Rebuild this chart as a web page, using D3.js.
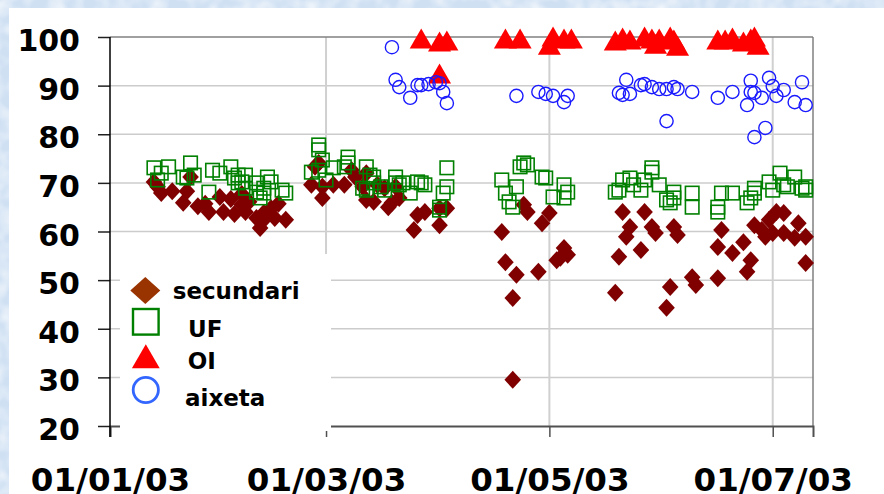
<!DOCTYPE html>
<html><head><meta charset="utf-8">
<script src="https://cdn.jsdelivr.net/npm/d3@7"></script>
<style>
html,body{margin:0;padding:0;background:#fff;}
svg{display:block;}
text{font-family:"DejaVu Sans",Verdana,sans-serif;font-weight:bold;fill:#000;}
</style></head>
<body><svg id="chart" width="884" height="494"></svg>
<script>
// ---- data ----
const yTicks = [20,30,40,50,60,70,80,90,100];
const xTickDates = ["2003-01-01","2003-03-01","2003-05-01","2003-07-01"];
const xTickLabels = ["01/01/03","01/03/03","01/05/03","01/07/03"];
const seriesNames = ["secundari","UF","OI","aixeta"];

const secundari = [
["2003-01-13",70.2],["2003-01-14",69.2],["2003-01-15",67.9],["2003-01-18",68.3],["2003-01-23",71.2],["2003-01-22",68.3],["2003-01-21",65.9],["2003-01-25",65.2],["2003-01-27",65.7],["2003-01-28",64.0],["2003-01-31",67.1],["2003-02-01",64.0],["2003-02-03",66.7],["2003-02-04",63.6],["2003-02-06",65.5],["2003-02-06",67.7],["2003-02-07",64.0],["2003-02-08",66.1],["2003-02-10",62.8],["2003-02-11",60.7],["2003-02-12",62.4],["2003-02-12",63.8],["2003-02-14",64.8],["2003-02-15",62.8],["2003-02-16",65.7],["2003-02-18",62.4],
["2003-02-25",69.6],["2003-02-26",73.3],["2003-02-27",74.1],["2003-02-28",66.9],["2003-02-28",69.2],["2003-03-03",69.6],["2003-03-06",69.6],["2003-03-08",72.6],["2003-03-09",71.2],["2003-03-11",69.2],["2003-03-12",72.0],["2003-03-12",66.5],["2003-03-14",66.1],["2003-03-15",69.6],["2003-03-18",65.0],["2003-03-17",68.9],["2003-03-19",65.9],["2003-03-21",66.9],["2003-03-20",69.2],["2003-03-25",60.3],["2003-03-26",63.4],["2003-03-28",64.0],["2003-04-01",61.3],["2003-04-03",64.8],["2003-04-01",64.8],
["2003-04-18",59.9],["2003-04-19",53.7],["2003-04-22",51.1],["2003-04-21",46.3],["2003-04-21",29.5],["2003-04-24",65.5],["2003-04-25",64.0],["2003-05-01",63.8],["2003-04-29",61.7],["2003-04-28",51.7],["2003-05-03",54.1],["2003-05-05",56.6],["2003-05-06",55.2],["2003-05-04",54.6],
["2003-05-21",64.0],["2003-05-27",64.0],["2003-05-23",60.9],["2003-05-22",58.9],["2003-05-29",60.9],["2003-05-30",59.7],["2003-06-04",60.9],["2003-06-05",59.3],["2003-05-20",54.8],["2003-05-26",56.2],["2003-05-19",47.4],["2003-06-03",48.6],["2003-06-02",44.3],["2003-06-09",50.6],["2003-06-10",49.0],
["2003-06-17",60.3],["2003-06-16",56.8],["2003-06-20",55.6],["2003-06-23",57.8],["2003-06-25",54.1],["2003-06-24",51.7],["2003-06-16",50.4],["2003-06-26",61.3],["2003-06-30",62.4],["2003-07-02",64.0],["2003-07-04",63.8],["2003-07-01",59.7],["2003-07-04",59.7],["2003-07-08",61.7],["2003-07-07",58.7],["2003-07-10",58.9],["2003-07-10",53.5],["2003-06-28",60.3],["2003-06-29",58.9]
];

const UF = [
["2003-01-13",73.1],["2003-01-15",72.0],["2003-01-17",73.3],["2003-01-14",70.6],["2003-01-21",71.2],["2003-01-23",74.1],["2003-01-24",71.6],["2003-01-22",71.0],["2003-01-28",68.1],["2003-01-29",72.6],["2003-01-31",72.0],["2003-02-03",73.3],["2003-02-04",71.0],["2003-02-05",71.6],["2003-02-07",71.6],["2003-02-05",70.0],["2003-02-06",70.2],["2003-02-07",68.9],["2003-02-10",70.0],["2003-02-12",68.9],["2003-02-13",71.2],["2003-02-14",70.2],["2003-02-12",67.9],["2003-02-11",66.9],["2003-02-17",68.5],["2003-02-18",67.9],["2003-02-10",68.1],
["2003-02-27",77.8],["2003-02-27",76.8],["2003-02-28",74.7],["2003-02-25",72.2],["2003-02-27",72.6],["2003-03-01",70.6],["2003-03-03",73.1],["2003-03-07",75.3],["2003-03-06",73.3],["2003-03-07",74.1],["2003-03-12",73.3],["2003-03-13",71.6],["2003-03-14",71.2],["2003-03-11",68.9],["2003-03-12",68.5],["2003-03-14",70.0],["2003-03-16",69.2],["2003-03-17",68.5],["2003-03-20",71.2],["2003-03-20",70.0],["2003-03-21",69.6],["2003-03-22",70.0],["2003-03-24",67.9],["2003-03-26",70.2],["2003-03-27",70.0],["2003-03-28",69.6],["2003-04-03",73.1],["2003-04-03",69.2],["2003-04-02",67.9],["2003-04-01",64.4],["2003-04-01",65.0],
["2003-04-18",70.6],["2003-04-19",67.9],["2003-04-20",66.1],["2003-04-21",65.0],["2003-04-22",69.2],["2003-04-24",74.1],["2003-04-25",73.7],["2003-04-23",73.3],["2003-04-29",71.2],["2003-04-30",71.0],["2003-05-02",67.1],["2003-05-05",69.6],["2003-05-06",68.1],["2003-05-05",66.9],
["2003-05-19",68.1],["2003-05-20",68.5],["2003-05-21",70.6],["2003-05-23",71.0],["2003-05-24",69.6],["2003-05-26",68.5],["2003-05-27",70.6],["2003-05-29",72.2],["2003-05-29",73.1],["2003-05-31",69.6],["2003-06-02",66.5],["2003-06-03",65.9],["2003-06-04",68.1],["2003-06-04",66.9],["2003-06-09",67.9],["2003-06-09",65.0],
["2003-06-16",65.0],["2003-06-16",64.0],["2003-06-17",67.9],["2003-06-20",67.9],["2003-06-24",65.9],["2003-06-25",66.9],["2003-06-26",67.9],["2003-06-26",68.9],["2003-06-30",70.2],["2003-07-01",68.5],["2003-07-03",72.0],["2003-07-04",69.6],["2003-07-05",69.2],["2003-07-07",71.2],["2003-07-09",68.9],["2003-07-10",68.5],["2003-07-10",69.2]
];

const OI = [
["2003-03-27",99.0],["2003-04-01",98.4],["2003-04-03",98.6],["2003-04-01",91.8],
["2003-04-19",99.0],["2003-04-23",99.0],["2003-05-01",97.7],["2003-05-02",99.4],["2003-05-05",99.0],["2003-05-07",99.0],
["2003-05-19",98.6],["2003-05-21",99.2],["2003-05-23",98.8],["2003-05-27",99.4],["2003-05-29",99.0],["2003-05-30",97.9],["2003-05-31",99.0],["2003-06-03",99.4],["2003-06-04",98.8],["2003-06-05",97.5],
["2003-06-16",98.8],["2003-06-18",98.8],["2003-06-20",99.2],["2003-06-23",98.4],["2003-06-25",99.0],["2003-06-26",99.4],["2003-06-27",97.7]
];

const aixeta = [
["2003-03-19",97.9],["2003-03-20",91.2],["2003-03-21",89.7],["2003-03-24",87.5],["2003-03-26",90.1],["2003-03-27",90.1],["2003-03-29",90.3],["2003-03-31",90.7],["2003-04-01",90.5],["2003-04-02",88.7],["2003-04-03",86.4],
["2003-04-22",87.9],["2003-04-28",88.7],["2003-04-30",88.3],["2003-05-02",87.9],["2003-05-05",86.6],["2003-05-06",87.9],
["2003-05-22",91.2],["2003-05-20",88.5],["2003-05-21",88.1],["2003-05-23",88.3],["2003-05-26",90.1],["2003-05-27",90.3],["2003-05-29",89.7],["2003-05-31",89.3],["2003-06-02",89.3],["2003-06-04",89.7],["2003-06-05",89.3],["2003-06-09",88.7],["2003-06-02",82.7],
["2003-06-16",87.5],["2003-06-20",88.7],["2003-06-24",86.0],["2003-06-25",91.0],["2003-06-25",88.7],["2003-06-26",88.5],["2003-06-28",87.5],["2003-06-30",91.6],["2003-07-01",89.9],["2003-07-02",87.9],["2003-07-04",89.1],["2003-07-07",86.6],["2003-07-09",90.7],["2003-07-10",86.0],["2003-06-26",79.4],["2003-06-29",81.3]
];

// ---- layout ----
const parse = d3.utcParse("%Y-%m-%d");
const svg = d3.select("#chart");
const L = 110, R = 813, T = 37, B = 426;

const x = d3.scaleUtc().domain([parse("2003-01-01"), parse("2003-07-12")]).range([L, R]);
const y = d3.scaleLinear().domain([20, 100]).range([B, T]);

// textured light-blue background strips
const defs = svg.append("defs");
const f = defs.append("filter").attr("id","tex").attr("x",0).attr("y",0).attr("width","100%").attr("height","100%");
f.append("feTurbulence").attr("type","fractalNoise").attr("baseFrequency","0.06").attr("numOctaves",2).attr("seed",4).attr("result","n");
f.append("feColorMatrix").attr("in","n").attr("type","matrix")
  .attr("values","0 0 0 0 1  0 0 0 0 1  0 0 0 0 1  1.6 0 0 0 -0.55");
svg.append("rect").attr("x",0).attr("y",0).attr("width",884).attr("height",494).attr("fill","#cfe0f3");
svg.append("rect").attr("x",0).attr("y",0).attr("width",884).attr("height",494).attr("filter","url(#tex)").attr("opacity",0.8);
svg.append("rect").attr("x",9).attr("y",8).attr("width",875).attr("height",486).attr("fill","#ffffff");

// horizontal gridlines
svg.append("g").selectAll("line").data(yTicks.filter(v => v > 20 && v < 100)).join("line")
  .attr("x1", L).attr("x2", R).attr("y1", d => y(d)).attr("y2", d => y(d))
  .attr("stroke", "#cccccc").attr("stroke-width", 1.5);
// vertical gridlines
svg.append("g").selectAll("line").data(xTickDates.slice(1)).join("line")
  .attr("x1", d => x(parse(d))).attr("x2", d => x(parse(d)))
  .attr("y1", T).attr("y2", B)
  .attr("stroke", "#d0d0d0").attr("stroke-width", 2);

// frame: top & right
svg.append("line").attr("x1",L).attr("x2",R).attr("y1",T).attr("y2",T).attr("stroke","#808080").attr("stroke-width",1.5);
svg.append("line").attr("x1",R).attr("x2",R).attr("y1",T).attr("y2",B).attr("stroke","#808080").attr("stroke-width",1.5);

// x axis
const xAxis = d3.axisBottom(x).tickValues(xTickDates.map(parse)).tickSize(11).tickFormat((d,i) => xTickLabels[i]);
const gx = svg.append("g").attr("transform", `translate(0,${B})`).call(xAxis);
gx.select(".domain").attr("stroke", "#505050").attr("stroke-width", 2);
gx.selectAll(".tick line").attr("stroke", "#505050").attr("stroke-width", 1.5);
gx.selectAll(".tick text").attr("font-size", 32.5).attr("font-family", "DejaVu Sans").attr("font-weight","bold")
  .attr("fill","#000").attr("y", 64.5).attr("dy", 0).attr("text-anchor","middle");

// y axis
const yAxis = d3.axisLeft(y).tickValues(yTicks).tickSize(12).tickFormat(d3.format("d"));
const gy = svg.append("g").attr("transform", `translate(${L},0)`).call(yAxis);
gy.select(".domain").remove();
gy.append("line").attr("x1",0).attr("x2",0).attr("y1",T).attr("y2",B+11).attr("stroke","#000").attr("stroke-width",1.5);
gy.selectAll(".tick line").attr("stroke", "#202020").attr("stroke-width", 1.5);
gy.selectAll(".tick text").attr("font-size", 30).attr("font-family", "DejaVu Sans").attr("font-weight","bold")
  .attr("fill","#000").attr("x", -30).attr("dy", 0).attr("y", 13.5).attr("text-anchor","end");

// ---- marks ----
const diamond = "M0,-9L8.3,0L0,9L-8.3,0Z";
svg.append("g").selectAll("path").data(secundari).join("path")
  .attr("d", diamond)
  .attr("transform", d => `translate(${x(parse(d[0]))},${y(d[1])})`)
  .attr("fill", "#800000");

const sq = 13.5;
svg.append("g").selectAll("rect").data(UF).join("rect")
  .attr("x", d => x(parse(d[0])) - sq/2).attr("y", d => y(d[1]) - sq/2)
  .attr("width", sq).attr("height", sq)
  .attr("fill", "none").attr("stroke", "#008000").attr("stroke-width", 1.6);

const tri = d3.symbol().type(d3.symbolTriangle).size(230);
svg.append("g").selectAll("path").data(OI).join("path")
  .attr("d", tri)
  .attr("transform", d => `translate(${x(parse(d[0]))},${y(d[1])})`)
  .attr("fill", "#ff0000");

svg.append("g").selectAll("circle").data(aixeta).join("circle")
  .attr("cx", d => x(parse(d[0]))).attr("cy", d => y(d[1])).attr("r", 6.6)
  .attr("fill", "none").attr("stroke", "#1a1aff").attr("stroke-width", 1.4);

// ---- legend ----
const lg = svg.append("g");
lg.append("rect").attr("x",120).attr("y",254).attr("width",211).attr("height",177).attr("fill","#ffffff");
lg.append("path").attr("d","M0,-13.5L15,0L0,13.5L-15,0Z").attr("transform","translate(145.3,290.5)").attr("fill","#993300");
lg.append("rect").attr("x",133).attr("y",309).attr("width",25.6).attr("height",25.6).attr("fill","none").attr("stroke","#008000").attr("stroke-width",2.4);
lg.append("path").attr("d", d3.symbol().type(d3.symbolTriangle).size(335)).attr("transform","translate(145.8,360.2)").attr("fill","#ff0000");
lg.append("circle").attr("cx",145.8).attr("cy",390).attr("r",12.6).attr("fill","none").attr("stroke","#3366ff").attr("stroke-width",2.8);
const lgText = [[172.7,299.3],[188,336.7],[187.7,369.3],[185,405.7]];
lg.selectAll("text").data(seriesNames).join("text")
  .attr("x", (d,i) => lgText[i][0]).attr("y", (d,i) => lgText[i][1])
  .attr("font-size", 23).text(d => d);
</script></body></html>
